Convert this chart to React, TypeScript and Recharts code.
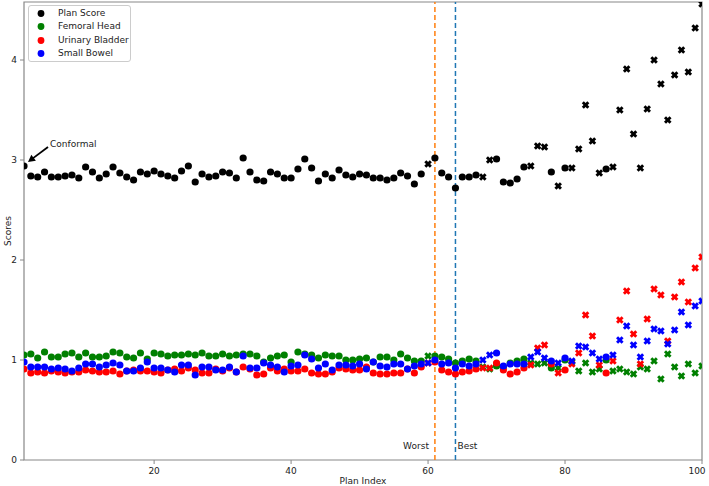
import React from 'react'
import {
  ScatterChart,
  Scatter,
  XAxis,
  YAxis,
  ReferenceLine,
  ReferenceDot,
  ReferenceArea,
  Legend,
} from 'recharts'

const FONT = '"DejaVu Sans", sans-serif'

// plan index 1..100
const planIndex = [
  1, 2, 3, 4, 5, 6, 7, 8, 9, 10, 11, 12, 13, 14, 15, 16, 17, 18, 19, 20,
  21, 22, 23, 24, 25, 26, 27, 28, 29, 30, 31, 32, 33, 34, 35, 36, 37, 38, 39, 40,
  41, 42, 43, 44, 45, 46, 47, 48, 49, 50, 51, 52, 53, 54, 55, 56, 57, 58, 59, 60,
  61, 62, 63, 64, 65, 66, 67, 68, 69, 70, 71, 72, 73, 74, 75, 76, 77, 78, 79, 80,
  81, 82, 83, 84, 85, 86, 87, 88, 89, 90, 91, 92, 93, 94, 95, 96, 97, 98, 99, 100,
]

// plans drawn with an X marker
const xMarkedPlans = [
  60, 68, 69, 75, 76, 77, 79, 81, 82, 83, 84, 85, 87, 88, 89, 90, 91, 92, 93,
  94, 95, 96, 97, 98, 99, 100,
]

const planScore = [
  2.94, 2.84, 2.83, 2.88, 2.83, 2.83, 2.84, 2.85, 2.82, 2.93,
  2.88, 2.82, 2.86, 2.93, 2.87, 2.83, 2.8, 2.88, 2.86, 2.89,
  2.86, 2.84, 2.82, 2.89, 2.94, 2.78, 2.86, 2.83, 2.84, 2.88,
  2.87, 2.82, 3.02, 2.88, 2.8, 2.79, 2.88, 2.86, 2.82, 2.82,
  2.91, 3.01, 2.92, 2.79, 2.86, 2.82, 2.9, 2.85, 2.83, 2.86,
  2.85, 2.82, 2.82, 2.8, 2.82, 2.87, 2.84, 2.76, 2.86, 2.96,
  3.02, 2.87, 2.83, 2.72, 2.83, 2.83, 2.85, 2.83, 3.0, 3.01,
  2.78, 2.77, 2.81, 2.93, 2.94, 3.14, 3.13, 2.88, 2.74, 2.92,
  2.92, 3.11, 3.55, 3.19, 2.87, 2.91, 2.93, 3.5, 3.91, 3.26,
  2.92, 3.51, 4.0, 3.76, 3.4, 3.85, 4.1, 3.88, 4.32, 4.56,
]

const femoralHead = [
  1.05, 1.06, 1.02, 1.08, 1.03, 1.03, 1.06, 1.07, 1.03, 1.07,
  1.03, 1.03, 1.04, 1.08, 1.07, 1.03, 1.02, 1.07, 1.01, 1.07,
  1.06, 1.04, 1.05, 1.05, 1.06, 1.05, 1.07, 1.04, 1.04, 1.06,
  1.04, 1.05, 1.06, 1.06, 1.04, 0.98, 1.02, 1.04, 1.05, 0.98,
  1.08, 1.06, 1.05, 1.02, 1.05, 1.04, 1.04, 1.0, 1.0, 1.01,
  1.02, 0.98, 1.03, 1.03, 1.0, 1.06, 1.02, 0.99, 0.99, 1.04,
  1.04, 1.03, 1.01, 0.97, 0.99, 1.01, 0.99, 0.93, 0.91, 0.94,
  0.93, 0.97, 0.99, 1.01, 0.97, 0.96, 0.97, 0.92, 0.92, 1.0,
  0.98, 0.89, 0.97, 0.88, 0.91, 1.0, 0.89, 0.91, 0.88, 0.86,
  0.93, 0.91, 0.99, 0.81, 1.06, 0.93, 0.84, 0.96, 0.87, 0.94,
]

const urinaryBladder = [
  0.91, 0.87, 0.88, 0.87, 0.89, 0.88, 0.87, 0.88, 0.88, 0.9,
  0.89, 0.88, 0.88, 0.89, 0.86, 0.89, 0.9, 0.89, 0.89, 0.88,
  0.87, 0.9, 0.91, 0.89, 0.92, 0.9, 0.87, 0.87, 0.91, 0.89,
  0.92, 0.88, 0.93, 0.91, 0.85, 0.86, 0.92, 0.89, 0.91, 0.89,
  0.89, 0.91, 0.87, 0.86, 0.86, 0.88, 0.92, 0.91, 0.9, 0.9,
  0.93, 0.87, 0.86, 0.86, 0.87, 0.87, 0.91, 0.87, 0.93, 0.97,
  0.98, 0.9, 0.88, 0.86, 0.88, 0.89, 0.91, 0.92, 0.92, 0.97,
  0.9, 0.86, 0.88, 0.92, 0.95, 1.12, 1.15, 0.96, 0.87, 0.9,
  0.96, 1.07, 1.45, 1.24, 0.95, 0.87, 0.99, 1.4, 1.69, 1.26,
  0.96, 1.41, 1.71, 1.65, 1.19, 1.63, 1.78, 1.58, 1.92, 2.03,
]

const smallBowel = [
  0.98, 0.93, 0.93, 0.93, 0.91, 0.92, 0.91, 0.89, 0.92, 0.96,
  0.96, 0.93, 0.95, 0.97, 0.95, 0.89, 0.89, 0.92, 0.98, 0.92,
  0.92, 0.9, 0.88, 0.95, 0.95, 0.85, 0.93, 0.93, 0.9, 0.9,
  0.93, 0.88, 1.04, 0.92, 0.92, 0.97, 0.95, 0.93, 0.88, 0.94,
  0.95, 1.05, 1.01, 0.92, 0.96, 0.9, 0.95, 0.95, 0.94, 0.96,
  0.91, 0.98, 0.94, 0.93, 0.96, 0.96, 0.91, 0.94, 0.96, 0.97,
  1.0, 0.96, 0.97, 0.92, 0.96, 0.94, 0.96, 1.0, 1.05, 1.07,
  0.94, 0.96, 0.96, 0.96, 1.03, 1.08, 1.02, 0.99, 0.97, 1.02,
  0.99, 1.14, 1.13, 1.07, 1.01, 1.03, 1.05, 1.2, 1.34, 1.15,
  1.03, 1.19, 1.31, 1.29, 1.16, 1.3, 1.48, 1.35, 1.54, 1.59,
]

const xTicks = [20, 40, 60, 80, 100]
const yTicks = [0, 1, 2, 3, 4]
const worstPlan = 61
const bestPlan = 64

const series = [
  { name: 'Plan Score', color: '#000000', values: planScore },
  { name: 'Femoral Head', color: '#008000', values: femoralHead },
  { name: 'Urinary Bladder', color: '#ff0000', values: urinaryBladder },
  { name: 'Small Bowel', color: '#0000ff', values: smallBowel },
]

const toPoints = (values: number[]) =>
  values.map((y, i) => ({
    x: planIndex[i],
    y,
    marked: xMarkedPlans.includes(planIndex[i]),
  }))

// filled "X" marker (a plus rotated 45deg)
const S = 3.9
const W = 1.45
const X_PATH = `M${W},${S}L${W},${W}L${S},${W}L${S},${-W}L${W},${-W}L${W},${-S}L${-W},${-S}L${-W},${-W}L${-S},${-W}L${-S},${W}L${-W},${W}L${-W},${S}Z`

function Marker({ cx, cy, payload, color }: any) {
  if (cx == null || cy == null) return null
  if (payload && payload.marked) {
    return <path d={X_PATH} transform={`translate(${cx},${cy}) rotate(45)`} fill={color} />
  }
  return <circle cx={cx} cy={cy} r={3.6} fill={color} />
}

// keeps the last x tick label inside the picture
function XTick({ x, y, payload }: any) {
  const tx = Math.min(x, 699)
  return (
    <text x={tx} y={y + 8} textAnchor="middle" fontSize={9} fontFamily={FONT} fill="#222">
      {payload.value}
    </text>
  )
}

function LineLabel({ viewBox, text, side }: any) {
  if (!viewBox) return null
  const { x, y, height } = viewBox
  return (
    <text
      x={side === 'left' ? x - 6 : x + 2}
      y={y + height - 11}
      textAnchor={side === 'left' ? 'end' : 'start'}
      fontSize={9}
      fontFamily={FONT}
      fill="#222"
    >
      {text}
    </text>
  )
}

function ConformalArrow({ cx, cy }: any) {
  if (cx == null || cy == null) return null
  const tail = { x: cx + 24, y: cy - 19 }
  const tip = { x: cx + 4, y: cy - 4 }
  const dx = tip.x - tail.x
  const dy = tip.y - tail.y
  const len = Math.sqrt(dx * dx + dy * dy)
  const ux = dx / len
  const uy = dy / len
  const hl = 7
  const hw = 3.8
  const bx = tip.x - ux * hl
  const by = tip.y - uy * hl
  return (
    <g>
      <line x1={tail.x} y1={tail.y} x2={bx + ux} y2={by + uy} stroke="#000" strokeWidth={1.8} />
      <polygon
        points={`${tip.x},${tip.y} ${bx - uy * hw},${by + ux * hw} ${bx + uy * hw},${by - ux * hw}`}
        fill="#000"
      />
      <text x={cx + 26} y={cy - 19} fontSize={9} fontFamily={FONT} fill="#222">
        Conformal
      </text>
    </g>
  )
}

function XLabel({ viewBox }: any) {
  if (!viewBox) return null
  const { x, y, width } = viewBox
  return (
    <text x={x + width / 2} y={y + 23.5} textAnchor="middle" fontSize={9} fontFamily={FONT} fill="#222">
      Plan Index
    </text>
  )
}

function YLabel({ viewBox }: any) {
  if (!viewBox) return null
  const { x, y, height } = viewBox
  return (
    <text
      transform={`translate(${x + 11},${y + height / 2}) rotate(-90)`}
      textAnchor="middle"
      fontSize={9}
      fontFamily={FONT}
      fill="#222"
    >
      Scores
    </text>
  )
}

function LegendBox() {
  return (
    <div
      style={{
        boxSizing: 'border-box',
        width: 103,
        background: 'white',
        border: '1px solid #cccccc',
        borderRadius: 3,
        padding: '1px 2px 1px 7px',
        fontFamily: FONT,
        fontSize: 9,
        color: '#222',
        lineHeight: '13.3px',
      }}
    >
      {series.map((s) => (
        <div key={s.name} style={{ display: 'flex', alignItems: 'center', whiteSpace: 'nowrap', height: 13.3 }}>
          <svg width={22} height={13} style={{ flex: 'none' }}>
            <circle cx={5} cy={6.5} r={3.4} fill={s.color} />
          </svg>
          <span>{s.name}</span>
        </div>
      ))}
    </div>
  )
}

export default function App() {
  const tickStyle = { fill: '#222', fontSize: 9, fontFamily: FONT }
  return (
    <div style={{ position: 'absolute', left: 0, top: 0, width: 709, height: 486, background: '#fff' }}>
      <ScatterChart width={709} height={486} margin={{ top: 2, right: 7, left: 0, bottom: 0 }}>
        <XAxis
          type="number"
          dataKey="x"
          domain={[1, 100]}
          ticks={xTicks}
          allowDataOverflow
          axisLine={false}
          tickLine={{ stroke: '#888' }}
          tickSize={4}
          tickMargin={2}
          tick={<XTick />}
          height={26}
          label={<XLabel />}
        />
        <YAxis
          type="number"
          dataKey="y"
          domain={[0, 4.58]}
          ticks={yTicks}
          allowDataOverflow
          axisLine={false}
          tickLine={{ stroke: '#888' }}
          tickSize={4}
          tickMargin={3}
          tick={tickStyle}
          width={24}
          label={<YLabel />}
        />
        <ReferenceArea x1={1} x2={100} y1={0} y2={4.58} fill="none" stroke="#888" strokeWidth={1.2} />
        <ReferenceLine
          x={worstPlan}
          stroke="#ff7f0e"
          strokeWidth={1.5}
          strokeDasharray="5 3"
          label={<LineLabel text="Worst" side="left" />}
        />
        <ReferenceLine
          x={bestPlan}
          stroke="#1f77b4"
          strokeWidth={1.5}
          strokeDasharray="5 3"
          label={<LineLabel text="Best" side="right" />}
        />
        {series.map((s) => (
          <Scatter
            key={s.name}
            name={s.name}
            data={toPoints(s.values)}
            fill={s.color}
            isAnimationActive={false}
            shape={(p: any) => <Marker {...p} color={s.color} />}
          />
        ))}
        <ReferenceDot
          x={planIndex[0]}
          y={planScore[0]}
          ifOverflow="visible"
          shape={(p: any) => <ConformalArrow {...p} />}
        />
        <Legend
          layout="vertical"
          align="center"
          verticalAlign="middle"
          wrapperStyle={{ top: 5, left: 28, width: 'auto', height: 'auto' }}
          content={() => <LegendBox />}
        />
      </ScatterChart>
    </div>
  )
}
